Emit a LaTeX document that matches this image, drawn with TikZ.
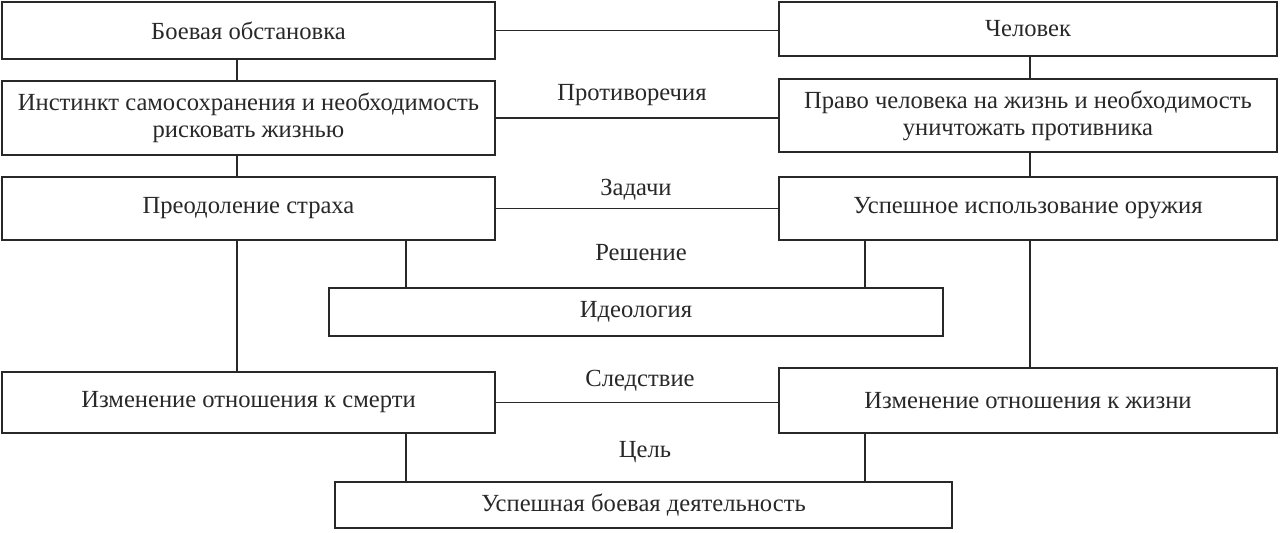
\documentclass[tikz,border=0pt]{standalone}
\usepackage{fontspec}
\setmainfont{Liberation Serif}
\definecolor{myink}{RGB}{40, 40, 40}

\begin{document}
\begin{tikzpicture}[x=0.02cm, y=-0.02cm, myink, line width=0.8pt,
    font=\fontsize{14}{15.5}\selectfont,
    box/.style={draw, rectangle, align=center, inner sep=0pt},
    leftbox/.style={box, minimum width=9.86cm},
    rightbox/.style={box, minimum width=9.96cm},
    midbox/.style={box, minimum width=12.3cm},
    tag/.style={inner sep=0pt}]

    \useasboundingbox (0,0) rectangle (1280,533);

    % Column positions of the vertical links
    \coordinate (colA) at (237,0);
    \coordinate (colB) at (406,0);
    \coordinate (colC) at (865,0);
    \coordinate (colD) at (1030,0);

    % Left column
    \node[leftbox, minimum height=1.14cm] (boevaya) at (248.5,30.5) {Боевая обстановка};
    \node[leftbox, minimum height=1.48cm] (instinkt) at (248.5,118) {Инстинкт самосохранения и необходимость\\рисковать жизнью};
    \node[leftbox, minimum height=1.26cm] (strakh) at (248.5,208.5) {Преодоление страха};
    \node[leftbox, minimum height=1.22cm] (smert) at (248.5,402.5) {Изменение отношения к смерти};

    % Right column
    \node[rightbox, minimum height=1.08cm] (chelovek) at (1028,29) {Человек};
    \node[rightbox, minimum height=1.46cm] (pravo) at (1028,115.5) {Право человека на жизнь и необходимость\\уничтожать противника};
    \node[rightbox, minimum height=1.26cm] (oruzhie) at (1028,208.5) {Успешное использование оружия};
    \node[rightbox, minimum height=1.30cm] (zhizn) at (1028,400.5) {Изменение отношения к жизни};

    % Middle boxes
    \node[midbox, minimum width=12.28cm, minimum height=0.96cm] (ideologiya) at (636,312) {Идеология};
    \node[midbox, minimum width=12.34cm, minimum height=0.92cm] (uspekh) at (643.5,505) {Успешная боевая деятельность};

    % Labels
    \node[tag] (protivorechiya) at (632,95) {Противоречия};
    \node[tag] (zadachi) at (636,190) {Задачи};
    \node[tag] (reshenie) at (641,253) {Решение};
    \node[tag] (sledstvie) at (640,381) {Следствие};
    \node[tag] (tsel) at (645,452) {Цель};

    % Horizontal links
    \draw (boevaya.east) -- (boevaya.east -| chelovek.west);
    \draw (instinkt.east) -- (instinkt.east -| pravo.west);
    \draw (strakh.east) -- (strakh.east -| oruzhie.west);
    \draw (smert.east) -- (smert.east -| zhizn.west);

    % Vertical links
    \draw (boevaya.south -| colA) -- (instinkt.north -| colA);
    \draw (instinkt.south -| colA) -- (strakh.north -| colA);
    \draw (strakh.south -| colA) -- (smert.north -| colA);
    \draw (strakh.south -| colB) -- (ideologiya.north -| colB);
    \draw (smert.south -| colB) -- (uspekh.north -| colB);

    \draw (chelovek.south -| colD) -- (pravo.north -| colD);
    \draw (pravo.south -| colD) -- (oruzhie.north -| colD);
    \draw (oruzhie.south -| colD) -- (zhizn.north -| colD);
    \draw (oruzhie.south -| colC) -- (ideologiya.north -| colC);
    \draw (zhizn.south -| colC) -- (uspekh.north -| colC);

\end{tikzpicture}
\end{document}
